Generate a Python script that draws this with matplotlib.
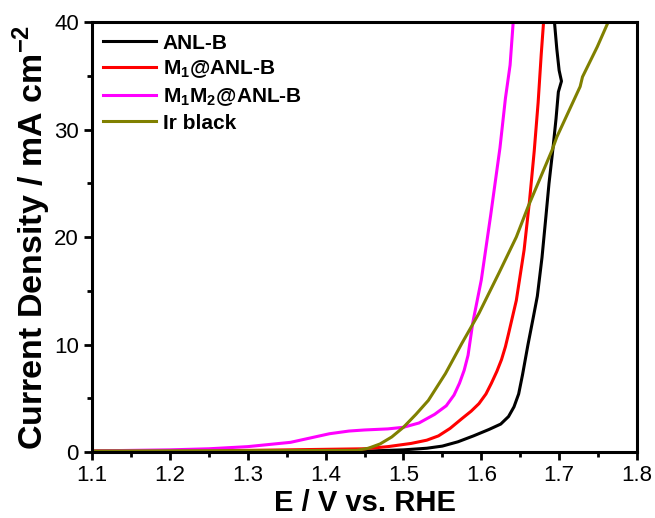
import numpy as np
import matplotlib
matplotlib.use("Agg")
import matplotlib.pyplot as plt
from matplotlib.ticker import MultipleLocator

plt.rcParams['font.family'] = ['Liberation Sans', 'DejaVu Sans']
plt.rcParams['mathtext.fontset'] = 'custom'
plt.rcParams['mathtext.rm'] = 'Liberation Sans'
plt.rcParams['mathtext.bf'] = 'Liberation Sans:bold'

# ANL-B
anl_x = [1.10, 1.30, 1.45, 1.50, 1.53, 1.55, 1.57, 1.59, 1.61, 1.625, 1.635, 1.642,
         1.648, 1.653, 1.66, 1.667, 1.672, 1.678, 1.683, 1.687, 1.692, 1.696, 1.699,
         1.703, 1.700, 1.697, 1.694]
anl_y = [0.05, 0.05, 0.08, 0.2, 0.35, 0.55, 0.95, 1.5, 2.1, 2.6, 3.3, 4.2,
         5.4, 7.2, 10.0, 12.6, 14.5, 18.1, 21.9, 25.0, 28.2, 31.0, 33.5,
         34.5, 35.5, 37.5, 40.0]

# M1@ANL-B
m1_x = [1.10, 1.30, 1.45, 1.48, 1.51, 1.53, 1.545, 1.56, 1.575, 1.587, 1.597, 1.606,
        1.613, 1.62, 1.626, 1.631, 1.635, 1.645, 1.655, 1.662, 1.668, 1.673, 1.677,
        1.680]
m1_y = [0.1, 0.15, 0.3, 0.5, 0.8, 1.1, 1.5, 2.2, 3.1, 3.8, 4.5, 5.4,
        6.4, 7.5, 8.6, 9.8, 11.0, 14.1, 18.8, 23.4, 28.0, 32.5, 37.0,
        40.0]

# M1M2@ANL-B
m1m2_x = [1.10, 1.20, 1.25, 1.30, 1.355, 1.38, 1.405, 1.43, 1.45, 1.48, 1.50, 1.52,
          1.54, 1.555, 1.565, 1.572, 1.578, 1.583, 1.589, 1.60, 1.612, 1.624, 1.631,
          1.637, 1.641]
m1m2_y = [0.1, 0.2, 0.3, 0.5, 0.9, 1.3, 1.7, 1.95, 2.05, 2.15, 2.3, 2.7,
          3.5, 4.3, 5.3, 6.4, 7.6, 9.0, 12.0, 16.0, 22.0, 28.3, 32.9,
          36.0, 40.0]

# Ir black
ir_x = [1.10, 1.44, 1.455, 1.47, 1.485, 1.50, 1.516, 1.532, 1.554, 1.575, 1.597,
        1.623, 1.645, 1.66, 1.691, 1.697, 1.727, 1.73, 1.749, 1.763]
ir_y = [0.1, 0.15, 0.35, 0.75, 1.4, 2.3, 3.5, 4.8, 7.3, 10.1, 12.9,
        16.7, 20.0, 22.8, 28.1, 29.3, 34.0, 34.9, 37.7, 40.0]

fig = plt.figure(figsize=(6.55, 5.18), dpi=100)
ax = fig.add_axes([0.1405, 0.1274, 0.832, 0.830])

ax.plot(anl_x, anl_y, color='black', lw=2.2, label='ANL-B')
ax.plot(m1_x, m1_y, color='#ff0000', lw=2.2, label=r'M$_\mathbf{1}$@ANL-B')
ax.plot(m1m2_x, m1m2_y, color='#ff00ff', lw=2.2, label=r'M$_\mathbf{1}$M$_\mathbf{2}$@ANL-B')
ax.plot(ir_x, ir_y, color='#808000', lw=2.2, label='Ir black')

ax.set_xlim(1.1, 1.8)
ax.set_ylim(0, 40)
ax.xaxis.set_major_locator(MultipleLocator(0.1))
ax.xaxis.set_minor_locator(MultipleLocator(0.05))
ax.yaxis.set_major_locator(MultipleLocator(10))
ax.yaxis.set_minor_locator(MultipleLocator(5))
ax.tick_params(which='major', direction='out', length=6, width=2, labelsize=16)
ax.tick_params(which='minor', direction='out', length=3.5, width=2)
for s in ax.spines.values():
    s.set_linewidth(2.2)

ax.set_xlabel('E / V vs. RHE', fontsize=21, fontweight='bold', labelpad=2)
ax.set_ylabel(r'Current Density / mA cm$^\mathbf{-2}$', fontsize=24.5, fontweight='bold', labelpad=1)

# legend sits in the top left corner, no frame
leg = ax.legend(loc='upper left', frameon=False, prop={'weight': 'bold', 'size': 15},
                handlelength=2.5, handletextpad=0.35, labelspacing=0.28,
                borderaxespad=0.25, borderpad=0.3)

fig.savefig('out.png', dpi=100)
